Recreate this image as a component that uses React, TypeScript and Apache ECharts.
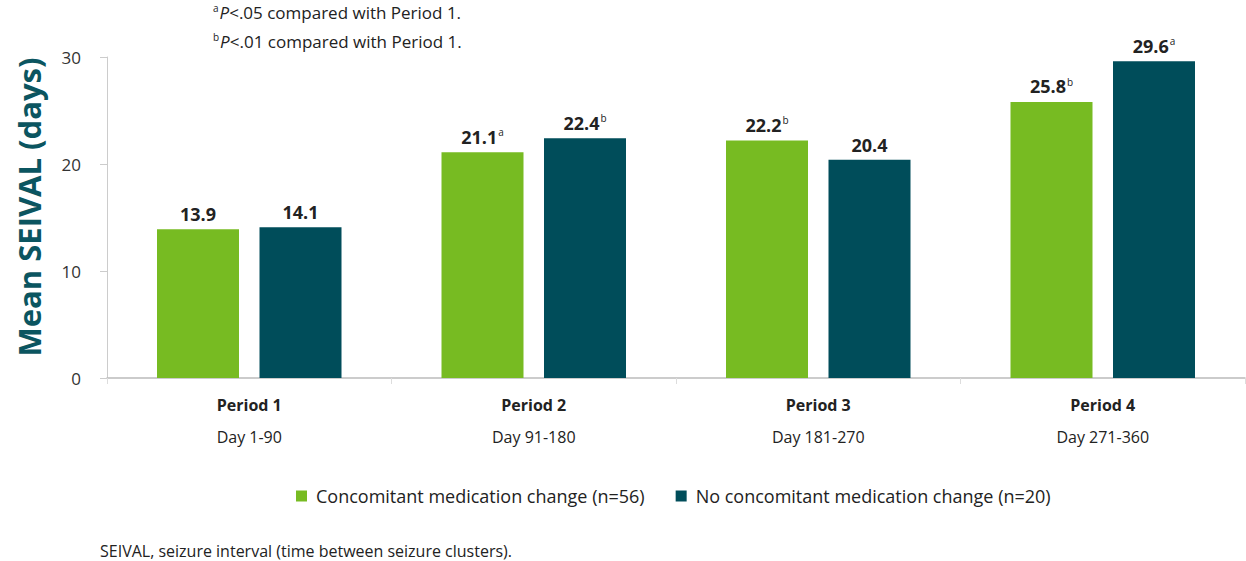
import React, { useEffect, useRef } from "react";
import * as echarts from "echarts";

const periods = ["Period 1", "Period 2", "Period 3", "Period 4"];
const dayRanges = ["Day 1-90", "Day 91-180", "Day 181-270", "Day 271-360"];
const changeValues = [13.9, 21.1, 22.2, 25.8];
const changeSup = ["", "a", "b", "b"];
const noChangeValues = [14.1, 22.4, 20.4, 29.6];
const noChangeSup = ["", "b", "", "a"];
const yTicks = [0, 10, 20, 30];
const seriesNames = [
  "Concomitant medication change (n=56)",
  "No concomitant medication change (n=20)",
];

const FONT = "'Open Sans', 'Noto Sans', sans-serif";
const GREEN = "#77bb22";
const TEAL = "#004d5a";

export default function App() {
  const ref = useRef<HTMLDivElement>(null);
  useEffect(() => {
    if (!ref.current) return;
    const chart = echarts.init(ref.current, null, { renderer: "svg" });
    const labelRich = {
      v: { fontSize: 18, fontWeight: "bold", color: "#222", fontFamily: FONT },
      s: { fontSize: 10, color: "#222", fontFamily: FONT, padding: [0, 0, 9, 1] },
    };
    const mkLabel = (sups: string[]) => ({
      show: true,
      position: "top",
      distance: 6,
      formatter: (p: any) =>
        sups[p.dataIndex]
          ? `{v|${p.value.toFixed(1)}}{s|${sups[p.dataIndex]}}`
          : `{v|${p.value.toFixed(1)}}`,
      rich: labelRich,
    });
    const noteRich = {
      s: { fontSize: 10, fill: "#222", fontFamily: FONT, padding: [0, 1, 8, 0] },
      i: { fontSize: 17, fill: "#222", fontStyle: "italic", fontFamily: FONT },
      t: { fontSize: 17, fill: "#222", fontFamily: FONT },
    };
    chart.setOption({
      animation: false,
      textStyle: { fontFamily: FONT },
      grid: { left: 107, right: 1, top: 57, bottom: 183, outerBoundsMode: "none", containLabel: false },
      legend: {
        data: seriesNames,
        left: 291,
        top: 482,
        itemWidth: 11,
        itemHeight: 11,
        itemGap: 31,
        icon: "rect",
        textStyle: { fontSize: 18, color: "#222", fontFamily: FONT, padding: [0, 0, 0, 4] },
      },
      xAxis: {
        type: "category",
        data: periods,
        axisLine: { lineStyle: { color: "#bbb", width: 1.5 } },
        axisTick: { show: true, length: 6, lineStyle: { color: "#ddd" } },
        axisLabel: {
          margin: 11,
          formatter: (v: string, i: number) => `{p|${v}}\n{d|${dayRanges[i]}}`,
          rich: {
            p: { fontSize: 16, fontWeight: "bold", color: "#222", lineHeight: 32, fontFamily: FONT },
            d: { fontSize: 16, color: "#222", lineHeight: 32, fontFamily: FONT },
          },
        },
      },
      yAxis: {
        type: "value",
        min: yTicks[0],
        max: yTicks[yTicks.length - 1],
        interval: 10,
        axisLine: { show: true, lineStyle: { color: "#ccc" } },
        axisTick: { show: true, length: 7, lineStyle: { color: "#ccc" } },
        splitLine: { show: false },
        axisLabel: { fontSize: 17, color: "#333", margin: 26, fontFamily: FONT },
      },
      series: [
        {
          name: seriesNames[0],
          type: "bar",
          data: changeValues,
          barWidth: 82,
          barGap: "25%",
          itemStyle: { color: GREEN },
          label: mkLabel(changeSup),
        },
        {
          name: seriesNames[1],
          type: "bar",
          data: noChangeValues,
          barWidth: 82,
          itemStyle: { color: TEAL },
          label: mkLabel(noChangeSup),
        },
      ],
      graphic: [
        {
          type: "text",
          x: 29,
          y: 207,
          rotation: Math.PI / 2,
          style: {
            text: "Mean SEIVAL (days)",
            fontSize: 31,
            fontWeight: "bold",
            fill: "#0b5560",
            fontFamily: FONT,
            textAlign: "center",
            textVerticalAlign: "middle",
          },
        },
        {
          type: "text",
          left: 213,
          top: 3,
          style: { text: "{s|a}{i|P}{t|<.05 compared with Period 1.}", rich: noteRich },
        },
        {
          type: "text",
          left: 213,
          top: 32,
          style: { text: "{s|b}{i|P}{t|<.01 compared with Period 1.}", rich: noteRich },
        },
        {
          type: "text",
          left: 100,
          top: 543,
          style: {
            text: "SEIVAL, seizure interval (time between seizure clusters).",
            fontSize: 16,
            fill: "#222",
            fontFamily: FONT,
          },
        },
      ],
    });
    return () => chart.dispose();
  }, []);
  return (
    <div
      ref={ref}
      style={{ position: "fixed", left: 0, top: 0, width: 1246, height: 561, background: "#fff" }}
    />
  );
}
